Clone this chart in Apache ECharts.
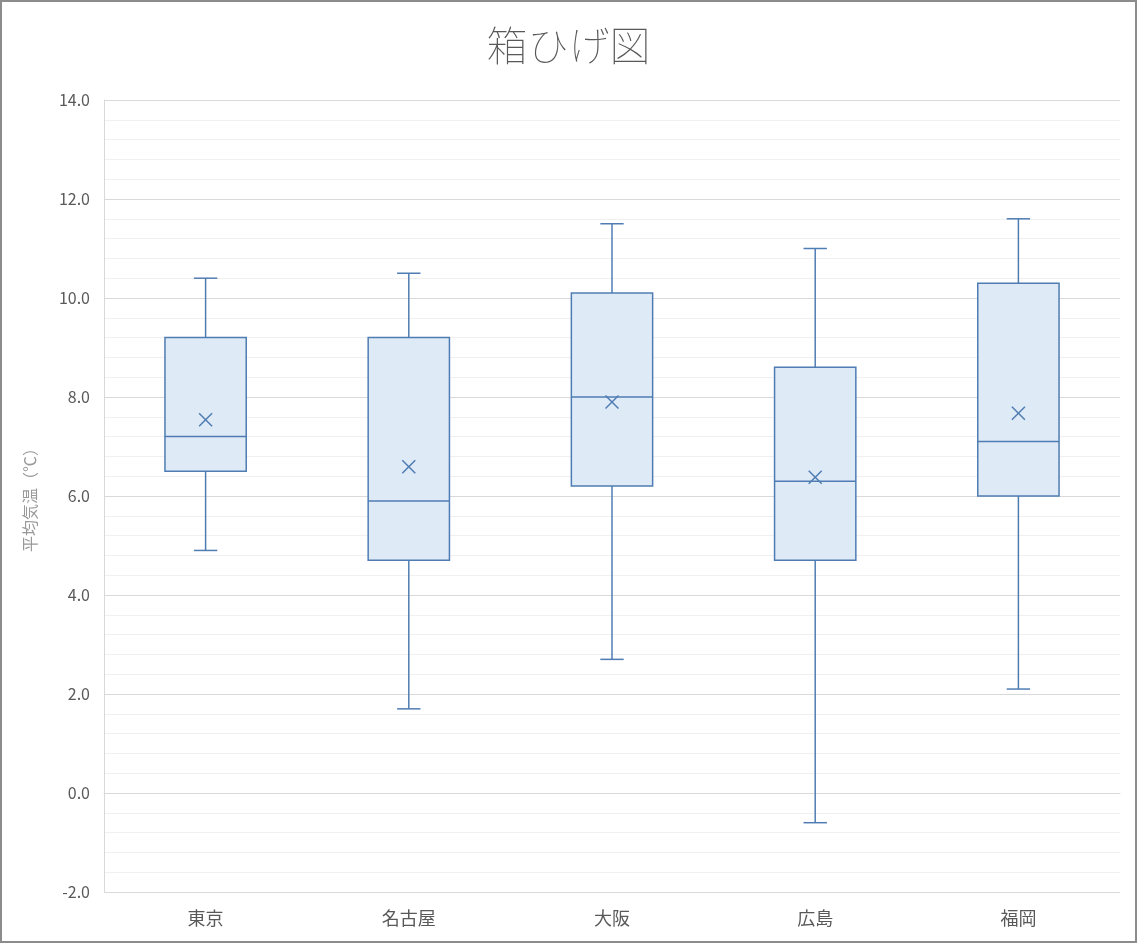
<!DOCTYPE html>
<html>
<head>
<meta charset="utf-8">
<script src="https://cdn.jsdelivr.net/npm/echarts@6/dist/echarts.min.js"></script>
<style>
html,body{margin:0;padding:0;background:#fff;}
#wrap{position:absolute;left:0;top:0;width:1133px;height:939px;border:2px solid #8c8c8c;}
#chart{width:1133px;height:939px;}
</style>
</head>
<body>
<div id="wrap"><div id="chart"></div></div>
<script>
const categories = ['東京', '名古屋', '大阪', '広島', '福岡'];
const minValues    = [4.9, 1.7, 2.7, -0.6, 2.1];
const q1Values     = [6.5, 4.7, 6.2, 4.7, 6.0];
const medianValues = [7.2, 5.9, 8.0, 6.3, 7.1];
const q3Values     = [9.2, 9.2, 10.1, 8.6, 10.3];
const maxValues    = [10.4, 10.5, 11.5, 11.0, 11.6];
const meanValues   = [7.54, 6.59, 7.9, 6.38, 7.67];

const boxData = categories.map((c, i) => [i, minValues[i], q1Values[i], medianValues[i], q3Values[i], maxValues[i], meanValues[i]]);

const stroke = '#4f7db3';
const fill = '#deeaf6';

const chart = echarts.init(document.getElementById('chart'), null, {renderer: 'canvas'});
chart.setOption({
  animation: false,
  title: {
    text: '箱ひげ図',
    left: 'center',
    top: 18,
    textStyle: {fontFamily: 'Noto Sans CJK JP', fontSize: 41, fontWeight: 'lighter', color: '#595959'}
  },
  grid: {left: 102, right: 15, top: 98, bottom: 49, containLabel: false},
  xAxis: {
    type: 'category',
    data: categories,
    axisLine: {show: true, lineStyle: {color: '#d9d9d9', width: 1}},
    axisTick: {show: false},
    axisLabel: {fontFamily: 'Noto Sans CJK JP', fontSize: 18, color: '#595959', margin: 17},
    splitLine: {show: false}
  },
  yAxis: {
    type: 'value',
    min: -2, max: 14, interval: 2,
    name: '平均気温（℃）',
    nameLocation: 'middle',
    nameGap: 66,
    nameRotate: 90,
    nameTextStyle: {fontFamily: 'Noto Sans CJK JP', fontSize: 16, color: '#999999'},
    axisLine: {show: true, lineStyle: {color: '#d9d9d9', width: 1}},
    axisTick: {show: false},
    axisLabel: {fontFamily: 'Noto Sans CJK JP', fontSize: 16, color: '#595959', margin: 14,
      formatter: v => v.toFixed(1)},
    splitLine: {show: true, lineStyle: {color: '#d9d9d9', width: 1}},
    minorTick: {show: false, splitNumber: 5},
    minorSplitLine: {show: true, lineStyle: {color: '#f0f0f0', width: 1}}
  },
  series: [{
    type: 'custom',
    data: boxData,
    encode: {x: 0, y: [1, 2, 3, 4, 5]},
    renderItem: function (params, api) {
      const idx = api.value(0);
      const band = api.size([1, 0])[0];
      const bw = band * 0.4;
      const cw = band * 0.115;
      const pMin = api.coord([idx, api.value(1)]);
      const pQ1 = api.coord([idx, api.value(2)]);
      const pMed = api.coord([idx, api.value(3)]);
      const pQ3 = api.coord([idx, api.value(4)]);
      const pMax = api.coord([idx, api.value(5)]);
      const pMean = api.coord([idx, api.value(6)]);
      const x = pMed[0];
      const ls = {stroke: stroke, lineWidth: 1.5, fill: null};
      const m = 6.5;
      return {
        type: 'group',
        children: [
          {type: 'line', shape: {x1: x, y1: pMax[1], x2: x, y2: pQ3[1]}, style: ls},
          {type: 'line', shape: {x1: x - cw / 2, y1: pMax[1], x2: x + cw / 2, y2: pMax[1]}, style: ls},
          {type: 'line', shape: {x1: x, y1: pQ1[1], x2: x, y2: pMin[1]}, style: ls},
          {type: 'line', shape: {x1: x - cw / 2, y1: pMin[1], x2: x + cw / 2, y2: pMin[1]}, style: ls},
          {type: 'rect', shape: {x: x - bw / 2, y: pQ3[1], width: bw, height: pQ1[1] - pQ3[1]},
            style: {fill: fill, stroke: stroke, lineWidth: 1.5}},
          {type: 'line', shape: {x1: x - bw / 2, y1: pMed[1], x2: x + bw / 2, y2: pMed[1]}, style: ls},
          {type: 'line', shape: {x1: pMean[0] - m, y1: pMean[1] - m, x2: pMean[0] + m, y2: pMean[1] + m}, style: ls},
          {type: 'line', shape: {x1: pMean[0] - m, y1: pMean[1] + m, x2: pMean[0] + m, y2: pMean[1] - m}, style: ls}
        ]
      };
    }
  }]
});
</script>
</body>
</html>
